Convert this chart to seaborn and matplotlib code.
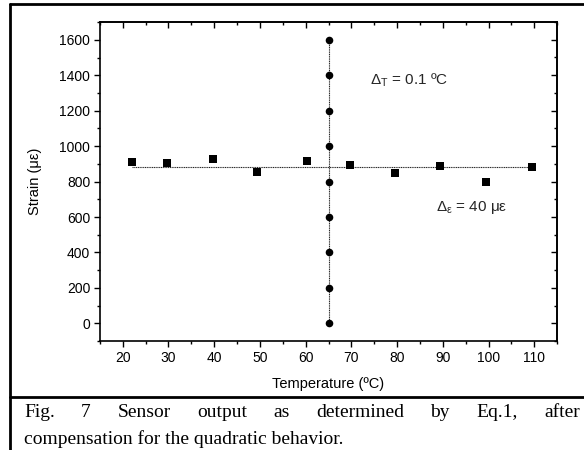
import seaborn as sns
import matplotlib.pyplot as plt
import pandas as pd
from matplotlib.ticker import MultipleLocator
from matplotlib.lines import Line2D

# data
temp_sq = [22, 29.7, 39.7, 49.4, 60.3, 69.6, 79.6, 89.4, 99.5, 109.6]
strain_sq = [912, 903, 925, 855, 918, 895, 846, 889, 797, 882]
temp_circ = [65, 65, 65, 65, 65, 65, 65, 65, 65]
strain_circ = [0, 200, 400, 600, 800, 1000, 1200, 1400, 1600]
hfit_x = [22, 110]
hfit_y = [880, 880]
vfit_x = [65, 65]
vfit_y = [0, 1600]

sns.set_theme(style="white")
plt.rcParams['font.family'] = ['Liberation Sans', 'DejaVu Sans']
plt.rcParams['mathtext.fontset'] = 'custom'
plt.rcParams['mathtext.rm'] = 'Liberation Sans'
plt.rcParams['mathtext.it'] = 'Liberation Sans'

df_sq = pd.DataFrame({"T": temp_sq, "S": strain_sq})
df_c = pd.DataFrame({"T": temp_circ, "S": strain_circ})

fig = plt.figure(figsize=(5.84, 4.5), dpi=100)
ax = fig.add_axes([0.171, 0.242, 0.783, 0.709])

sns.lineplot(x=hfit_x, y=hfit_y, ax=ax, color='0.15', lw=0.8,
             linestyle=(0, (1, 0.6)), estimator=None, sort=False)
sns.lineplot(x=vfit_x, y=vfit_y, ax=ax, color='0.15', lw=0.8,
             linestyle=(0, (1, 0.6)), estimator=None, sort=False)
sns.scatterplot(data=df_sq, x="T", y="S", marker='s', s=36, color='black',
                edgecolor='black', linewidth=0, ax=ax, zorder=3)
sns.scatterplot(data=df_c, x="T", y="S", marker='o', s=30, color='black',
                edgecolor='black', linewidth=0, ax=ax, zorder=3)

ax.set_xlim(15, 115)
ax.set_ylim(-100, 1700)
ax.set_xticks(range(20, 111, 10))
ax.set_yticks(range(0, 1601, 200))
ax.xaxis.set_minor_locator(MultipleLocator(5))
ax.yaxis.set_minor_locator(MultipleLocator(100))

for s in ax.spines.values():
    s.set_linewidth(1.2)
    s.set_color('black')

ax.tick_params(which='both', direction='out', color='black', width=1,
               labelsize=10, labelcolor='black', pad=3,
               bottom=True, left=True)
ax.tick_params(which='major', length=4)
ax.tick_params(which='minor', length=2.5)

# top and right: ticks pointing inward, no labels
top = ax.secondary_xaxis('top')
top.set_xticks(range(20, 111, 10))
top.xaxis.set_minor_locator(MultipleLocator(5))
top.tick_params(which='both', direction='in', labeltop=False, width=1, color='black')
top.tick_params(which='major', length=4)
top.tick_params(which='minor', length=2.5)
right = ax.secondary_yaxis('right')
right.set_yticks(range(0, 1601, 200))
right.yaxis.set_minor_locator(MultipleLocator(100))
right.tick_params(which='both', direction='in', labelright=False, width=1, color='black')
right.tick_params(which='major', length=4)
right.tick_params(which='minor', length=2.5)
for sec in (top, right):
    for s in sec.spines.values():
        s.set_linewidth(1.2)
        s.set_color('black')

ax.set_xlabel("Temperature (ºC)", fontsize=10.5, color='black', labelpad=9)
ax.set_ylabel("Strain (με)", fontsize=10.5, color='black', labelpad=12)

ax.text(74, 1374, r"$\Delta_{\rm T}$ = 0.1 ºC", fontsize=11, va='center')
ax.text(88.6, 656, r"$\Delta_{\rm \varepsilon}$ = 40 με", fontsize=11, va='center')

# frame of the figure box
fig.add_artist(Line2D([0.017, 0.017], [0, 0.991], color='black', lw=2))
fig.add_artist(Line2D([0.017, 1.0], [0.991, 0.991], color='black', lw=2))
fig.add_artist(Line2D([0.017, 1.0], [0.118, 0.118], color='black', lw=2))

# caption, first line justified
words = ["Fig.", "7", "Sensor", "output", "as", "determined", "by", "Eq.1,", "after"]
cap_kw = dict(fontsize=14, family='Liberation Serif', color='black', va='baseline')
fig.canvas.draw()
r = fig.canvas.get_renderer()
x0, x1 = 24 / 584, 580 / 584
tmp = [fig.text(0, 0, w, **cap_kw) for w in words]
widths = [t.get_window_extent(r).width / fig.bbox.width for t in tmp]
gap = (x1 - x0 - sum(widths)) / (len(words) - 1)
x = x0
for t, w in zip(tmp, widths):
    t.set_position((x, 1 - 417 / 450))
    x += w + gap
fig.text(x0, 1 - 444 / 450, "compensation for the quadratic behavior.", **cap_kw)

plt.savefig('out.png', dpi=100)
